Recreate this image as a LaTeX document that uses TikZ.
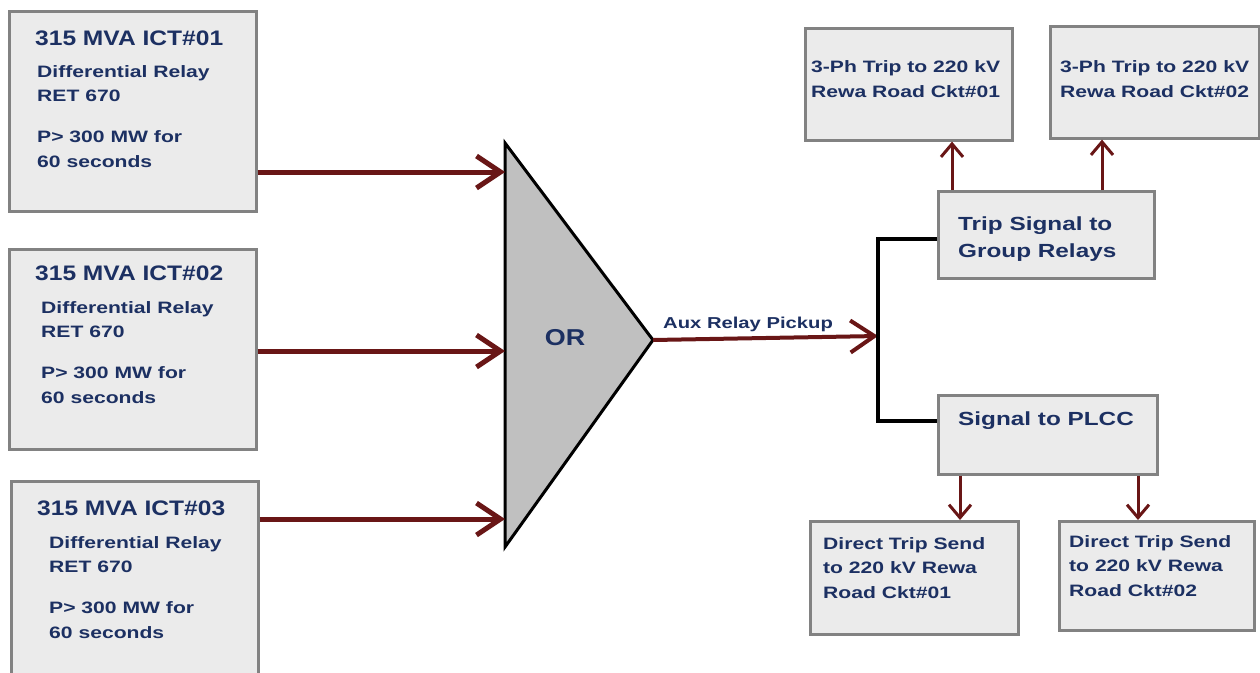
\documentclass[tikz,border=0pt]{standalone}
\usepackage{fontspec}
\usetikzlibrary{arrows.meta}
\newfontfamily\boxfont[FakeStretch=1.28]{Liberation Sans}
\newfontfamily\ttlfont[FakeStretch=1.17]{Liberation Sans}
\definecolor{navy}{RGB}{28,48,98}
\definecolor{wirered}{RGB}{105,22,22}
\definecolor{boxfill}{RGB}{235,235,235}
\definecolor{boxline}{RGB}{130,130,130}
\definecolor{gatefill}{RGB}{192,192,192}

\tikzset{
	blk/.style={draw=boxline, line width=2.6pt, fill=boxfill, anchor=north west, inner sep=0pt},
	txt/.style={text=navy, anchor=base west, inner sep=0pt, align=left},
	ttl/.style={txt, font=\ttlfont\bfseries\fontsize{21}{24}\selectfont},
	body/.style={txt, font=\boxfont\bfseries\fontsize{16.5}{24.5}\selectfont},
	mid/.style={txt, font=\boxfont\bfseries\fontsize{19}{27}\selectfont},
	sig/.style={draw=wirered, line width=5pt, -{Straight Barb[length=24pt, width=32pt]}},
	sigs/.style={draw=wirered, line width=3pt, -{Straight Barb[length=13pt, width=22pt]}},
	bus/.style={draw=black, line width=4pt, line join=miter}
}

\begin{document}
\begin{tikzpicture}[x=1pt, y=-1pt]
	\useasboundingbox (0,0) rectangle (1260,672);

	% ---- OR gate ----------------------------------------------------
	\draw[fill=gatefill, line width=3pt, line join=miter]
		(505,143) coordinate (gt) -- (653,340) coordinate (ga)
		-- (505,547) coordinate (gb) -- cycle;
	\node[text=navy, font=\ttlfont\bfseries\fontsize{23}{25}\selectfont] (orlbl) at (565,338) {OR};

	% ---- ICT input boxes (text placed by its last baseline) ----------
	\foreach \i/\xl/\yt/\ya/\tb/\bx/\bb in {1/8/10/172/45/37/167, 2/8/248/351/280/41/403, 3/10/480/519/515/49/638} {
			\node[blk, minimum width=247pt, minimum height=200pt] (ict\i) at (\xl,\yt) {};
			\node[ttl] (ttl\i) at (\xl+27,\tb) {315 MVA ICT\#0\i};
			\node[body] (rel\i) at (\bx,\bb) {Differential Relay\\RET 670\\[16.5pt]P> 300 MW for\\60 seconds};
			\coordinate (in\i) at (505,\ya);
			\draw[sig] (ict\i.east |- in\i) -- (in\i);
		}

	% ---- output of the gate ------------------------------------------
	\coordinate (jn) at (878,336);
	\coordinate (jt) at (878,239);
	\coordinate (jb) at (878,421);
	\draw[sig, line width=4pt] (ga) -- (jn);
	\node[txt, font=\boxfont\bfseries\fontsize{15.8}{18}\selectfont] (aux) at (663,328) {Aux Relay Pickup};

	% ---- group relays branch ----------------------------------------
	\node[blk, minimum width=216pt, minimum height=87pt] (trip) at (937,190) {};
	\node[mid] (triptxt) at (958,257) {Trip Signal to\\Group Relays};
	\node[blk, minimum width=207pt, minimum height=112pt] (tA) at (804,27) {};
	\node[body, font=\boxfont\bfseries\fontsize{16.5}{25}\selectfont] (tAtxt) at (811,97) {3-Ph Trip to 220 kV\\Rewa Road Ckt\#01};
	\node[blk, minimum width=209pt, minimum height=112pt] (tB) at (1049,25) {};
	\node[body, font=\boxfont\bfseries\fontsize{16.5}{25}\selectfont] (tBtxt) at (1060,97) {3-Ph Trip to 220 kV\\Rewa Road Ckt\#02};
	\draw[sigs] ([xshift=15pt]trip.north west) -- ([xshift=15pt]trip.north west |- tA.south);
	\draw[sigs] ([xshift=165pt]trip.north west) -- ([xshift=165pt]trip.north west |- tB.south);

	% ---- PLCC branch --------------------------------------------------
	\node[blk, minimum width=219pt, minimum height=79pt] (plcc) at (937,394) {};
	\node[mid] (plcctxt) at (958,425) {Signal to PLCC};
	\node[blk, minimum width=208pt, minimum height=113pt] (dA) at (809,520) {};
	\node[body] (dAtxt) at (823,598) {Direct Trip Send\\to 220 kV Rewa\\Road Ckt\#01};
	\node[blk, minimum width=195pt, minimum height=109pt] (dB) at (1058,520) {};
	\node[body] (dBtxt) at (1069,596) {Direct Trip Send\\to 220 kV Rewa\\Road Ckt\#02};
	\draw[sigs] ([xshift=23pt]plcc.south west) -- ([xshift=23pt]plcc.south west |- dA.north);
	\draw[sigs] ([xshift=201pt]plcc.south west) -- ([xshift=201pt]plcc.south west |- dB.north);

	% ---- bus to both branches ---------------------------------------
	\draw[bus] (trip.west |- jt) -- (jt) -- (jb) -- (plcc.west |- jb);
\end{tikzpicture}
\end{document}
